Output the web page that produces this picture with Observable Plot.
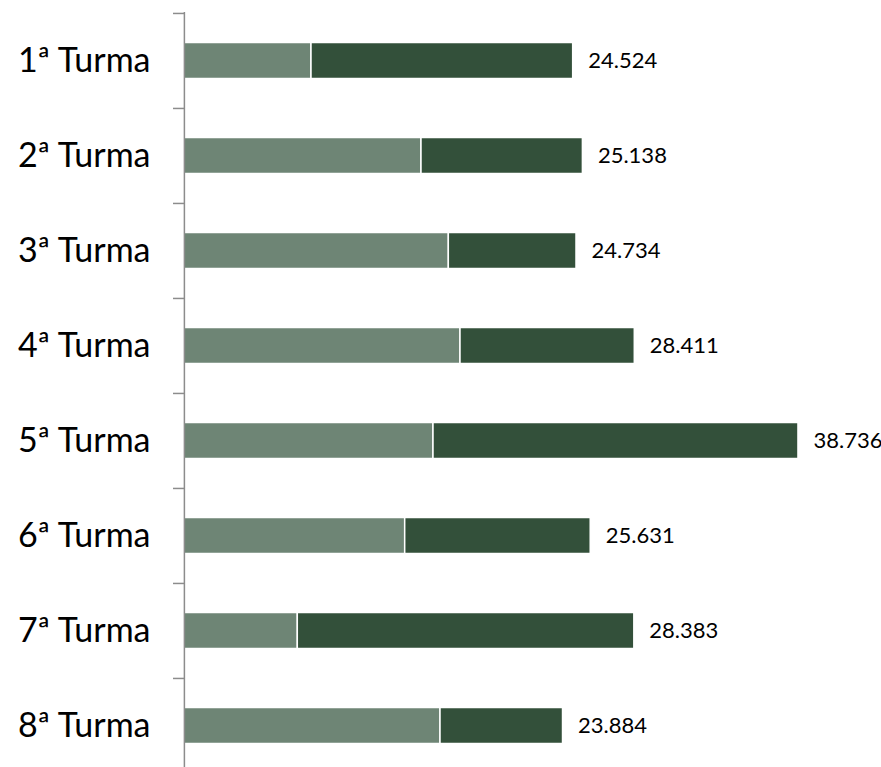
<!DOCTYPE html>
<html>
<head>
<meta charset="utf-8">
<script src="https://cdn.jsdelivr.net/npm/d3@7"></script>
<script src="https://cdn.jsdelivr.net/npm/@observablehq/plot@0.6"></script>
<style>
  html, body { margin: 0; padding: 0; background: #fff; overflow: hidden; }
  #chart { width: 881px; height: 767px; }
</style>
</head>
<body>
<div id="chart"></div>
<script>
const turmas = ["1ª Turma", "2ª Turma", "3ª Turma", "4ª Turma", "5ª Turma", "6ª Turma", "7ª Turma", "8ª Turma"];
const parte1 = [8017, 14956, 16680, 17416, 15713, 13928, 7153, 16155];
const parte2 = [16507, 10182, 8054, 10995, 23023, 11703, 21230, 7729];
const totais = [24524, 25138, 24734, 28411, 38736, 25631, 28383, 23884];
const series = ["parte1", "parte2"];
const cores = ["#6e8575", "#33503a"];

const rows = [
  ...turmas.map((t, i) => ({turma: t, serie: series[0], valor: parte1[i]})),
  ...turmas.map((t, i) => ({turma: t, serie: series[1], valor: parte2[i]}))
];
const labels = turmas.map((t, i) => ({turma: t, total: totais[i]}));
const fmt = v => d3.format(",")(v).replace(/,/g, ".");

const chart = Plot.plot({
  width: 881,
  height: 767,
  marginTop: 12,
  marginBottom: 0,
  marginLeft: 184,
  marginRight: 0,
  style: {fontFamily: "Lato, sans-serif", background: "#fff", color: "#000"},
  x: {domain: [0, 40000], range: [183.9, 818.0], axis: null},
  y: {domain: turmas, range: [12.1, 773], padding: 0, axis: null},
  color: {domain: series, range: cores},
  marks: [
    Plot.barX(rows, Plot.stackX({
      x: "valor", y: "turma", fill: "serie",
      stroke: "white", strokeWidth: 1.5,
      insetTop: 29.5, insetBottom: 29.5
    })),
    Plot.ruleX([0], {stroke: "#8c8c8c", strokeWidth: 1.5}),
    Plot.axisY({anchor: "left", label: null, tickSize: 11, text: null, dy: -47.55, stroke: "#8c8c8c", strokeWidth: 1.5}),
    Plot.axisY({anchor: "left", label: null, tickSize: 0, tickPadding: 34, fontSize: 34, fill: "#000"}),
    Plot.text(labels, {
      x: "total", y: "turma", text: d => fmt(d.total),
      textAnchor: "start", dx: 15, fontSize: 22, fill: "#000"
    })
  ]
});
document.getElementById("chart").appendChild(chart);
</script>
</body>
</html>
